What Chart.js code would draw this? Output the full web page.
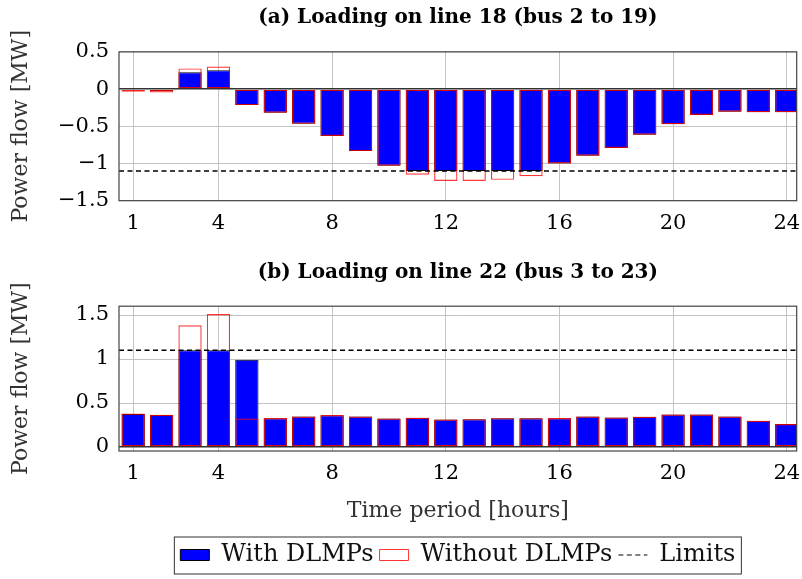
<!DOCTYPE html>
<html>
<head>
<meta charset="utf-8">
<script src="https://cdn.jsdelivr.net/npm/chart.js@4/dist/chart.umd.min.js"></script>
<style>
  html, body { margin: 0; padding: 0; background: #fff; }
  #wrap { position: relative; width: 802px; height: 579px; }
  .box { position: absolute; left: 0; width: 802px; }
</style>
</head>
<body>
<div id="wrap">
  <div class="box" style="top:0;height:240px"><canvas id="chartA"></canvas></div>
  <div class="box" style="top:240px;height:339px"><canvas id="chartB"></canvas></div>
</div>
<script>
// Dados (MW por hora)
const hours = [1,2,3,4,5,6,7,8,9,10,11,12,13,14,15,16,17,18,19,20,21,22,23,24];
const xTicks = [1, 4, 8, 12, 16, 20, 24];

// (a) linha 18
const line18With = [-0.02,-0.03,0.225,0.255,-0.215,-0.317,-0.467,-0.63,-0.833,-1.03,-1.1,-1.1,
                    -1.1,-1.1,-1.1,-1.0,-0.895,-0.79,-0.613,-0.472,-0.348,-0.304,-0.31,-0.31];
const line18Without = [-0.035,-0.045,0.278,0.304,-0.215,-0.317,-0.467,-0.63,-0.833,-1.03,-1.15,-1.235,
                       -1.235,-1.22,-1.17,-1.0,-0.895,-0.79,-0.613,-0.472,-0.348,-0.304,-0.31,-0.31];
const line18Limit = -1.1;
const line18Ticks = [-1.5, -1, -0.5, 0, 0.5];

// (b) linha 22
const line22With = [0.376,0.365,1.1,1.1,0.992,0.328,0.347,0.361,0.347,0.324,0.332,0.313,
                    0.317,0.328,0.328,0.328,0.347,0.336,0.343,0.369,0.369,0.347,0.299,0.262];
const line22Without = [0.38,0.367,1.383,1.512,0.324,0.33,0.347,0.363,0.347,0.324,0.332,0.313,
                       0.317,0.328,0.328,0.33,0.347,0.336,0.343,0.369,0.369,0.347,0.299,0.262];
const line22Limit = 1.1;
const line22Ticks = [0, 0.5, 1, 1.5];

const X_MIN = 0.5, X_MAX = 24.35;
const FONT = "'DejaVu Serif', serif";

// moldura do gráfico e da legenda
const framePlugin = {
    id: 'frame',
    afterDraw(chart) {
        const a = chart.chartArea;
        const c = chart.ctx;
        c.save();
        c.strokeStyle = '#444';
        c.lineWidth = 1.2;
        c.strokeRect(a.left, a.top, a.right - a.left, a.bottom - a.top);
        const lg = chart.legend;
        if (lg && lg.options.display && lg.legendHitBoxes.length) {
            const hb = lg.legendHitBoxes;
            const l = hb[0].left - 6;
            const r = hb[hb.length - 1].left + hb[hb.length - 1].width + 6;
            const cy = hb[0].top + hb[0].height / 2;
            c.strokeStyle = '#333';
            c.lineWidth = 1;
            c.strokeRect(l, cy - 18, r - l, 37);
        }
        c.restore();
    }
};

function toXY(vals) {
    return vals.map((v, i) => ({ x: hours[i], y: v }));
}

function fmt(v) {
    return String(v).replace('-', '\u2212');
}

function makeChart(id, title, withVals, withoutVals, limit, yTicks, yMin, yMax, bottom) {
    const ctx = document.getElementById(id).getContext('2d');
    return new Chart(ctx, {
        type: 'bar',
        data: {
            datasets: [{
                label: 'With DLMPs',
                data: toXY(withVals),
                backgroundColor: '#0000ff',
                borderColor: '#000',
                borderWidth: 1,
                borderSkipped: false,
                grouped: false,
                order: 3
            }, {
                label: 'Without DLMPs',
                data: toXY(withoutVals),
                backgroundColor: 'rgba(0,0,0,0)',
                borderColor: 'rgba(255,0,0,0.8)',
                borderWidth: 1.2,
                borderSkipped: false,
                grouped: false,
                order: 2
            }, {
                type: 'line',
                label: 'Limits',
                data: [{ x: X_MIN, y: limit }, { x: X_MAX, y: limit }],
                borderColor: '#000',
                backgroundColor: '#000',
                borderWidth: 1.5,
                borderDash: [5, 3.5],
                pointRadius: 0,
                order: 1
            }]
        },
        options: {
            responsive: true,
            maintainAspectRatio: false,
            animation: false,
            events: [],
            barPercentage: 0.82,
            categoryPercentage: 1,
            layout: { padding: { left: 0, right: 5.3, top: 0, bottom: bottom ? 2 : 0 } },
            plugins: {
                title: {
                    display: true,
                    text: title,
                    fullSize: false,
                    color: '#000',
                    font: { family: FONT, size: 20, weight: 'bold', lineHeight: 1.2 },
                    padding: bottom ? { top: 20.6, bottom: 21.6 } : { top: 6, bottom: 21.9 }
                },
                legend: {
                    display: bottom,
                    position: 'bottom',
                    fullSize: false,
                    labels: {
                        color: '#111',
                        font: { family: FONT, size: 24 },
                        usePointStyle: true,
                        pointStyleWidth: 29,
                        boxHeight: 11,
                        padding: 6,
                        generateLabels(chart) {
                            return chart.data.datasets.map((ds, i) => ({
                                text: ds.label,
                                fillStyle: ds.backgroundColor,
                                strokeStyle: ds.borderColor,
                                lineWidth: 1,
                                lineDash: ds.borderDash || [],
                                pointStyle: ds.type === 'line' ? 'line' : 'rect',
                                datasetIndex: i,
                                fontColor: '#111'
                            }));
                        }
                    }
                },
                tooltip: { enabled: false }
            },
            scales: {
                x: {
                    type: 'linear',
                    offset: false,
                    min: X_MIN,
                    max: X_MAX,
                    afterBuildTicks: (s) => { s.ticks = xTicks.map(v => ({ value: v })); },
                    afterFit: (s) => {
                        s.height = bottom ? 86 : 39.3;
                        s.paddingLeft = 0;
                        s.paddingRight = 0;
                    },
                    grid: { color: '#c4c4c4', drawTicks: false, offset: false },
                    border: { display: false },
                    ticks: {
                        color: '#000',
                        padding: 10,
                        maxRotation: 0,
                        font: { family: FONT, size: 21 },
                        callback: (v) => fmt(v)
                    },
                    title: {
                        display: bottom,
                        text: 'Time period [hours]',
                        color: '#333',
                        font: { family: FONT, size: 22 },
                        padding: { top: 0, bottom: 13 }
                    }
                },
                y: {
                    min: yMin,
                    max: yMax,
                    afterBuildTicks: (s) => { s.ticks = yTicks.map(v => ({ value: v })); },
                    afterFit: (s) => { s.width = 119; },
                    grid: {
                        drawTicks: false,
                        color: (c) => c.tick && c.tick.value === 0 ? '#333' : '#c4c4c4',
                        lineWidth: (c) => c.tick && c.tick.value === 0 ? 1.6 : 1
                    },
                    border: { display: false },
                    ticks: {
                        color: '#000',
                        padding: 10,
                        font: { family: FONT, size: 21 },
                        callback: (v) => fmt(v)
                    },
                    title: {
                        display: true,
                        text: 'Power flow [MW]',
                        color: '#333',
                        font: { family: FONT, size: 22 },
                        padding: { top: 8, bottom: 0 }
                    }
                }
            }
        },
        plugins: [framePlugin]
    });
}

makeChart('chartA', '(a) Loading on line 18 (bus 2 to 19)', line18With, line18Without,
          line18Limit, line18Ticks, -1.5, 0.5, false);
makeChart('chartB', '(b) Loading on line 22 (bus 3 to 23)', line22With, line22Without,
          line22Limit, line22Ticks, -0.045, 1.6, true);
</script>
</body>
</html>
